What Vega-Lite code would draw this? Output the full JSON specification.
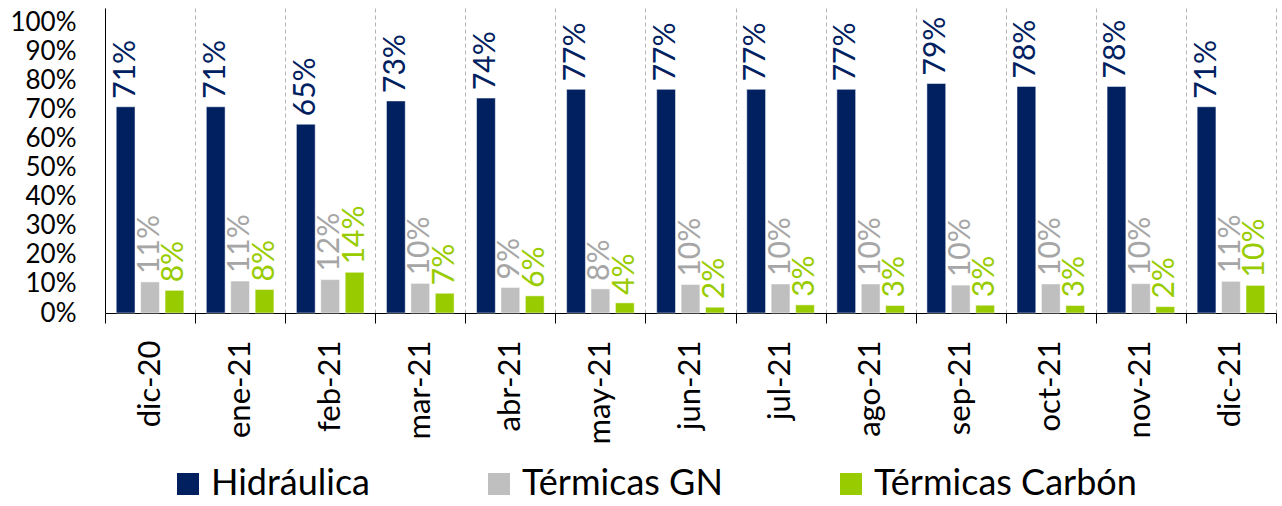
{
  "$schema": "https://vega.github.io/schema/vega-lite/v6.json",
  "width": 1171,
  "height": 305,
  "autosize": {"type": "none"},
  "padding": {"left": 105, "top": 8, "right": 6, "bottom": 193},
  "background": "white",
  "config": {
    "view": {"stroke": null},
    "font": "Lato"
  },
  "data": {
    "values": [
      {"mes": "dic-20", "serie": "Hidráulica", "valor": 0.71},
      {"mes": "dic-20", "serie": "Térmicas GN", "valor": 0.107},
      {"mes": "dic-20", "serie": "Térmicas Carbón", "valor": 0.078},
      {"mes": "ene-21", "serie": "Hidráulica", "valor": 0.71},
      {"mes": "ene-21", "serie": "Térmicas GN", "valor": 0.11},
      {"mes": "ene-21", "serie": "Térmicas Carbón", "valor": 0.081},
      {"mes": "feb-21", "serie": "Hidráulica", "valor": 0.65},
      {"mes": "feb-21", "serie": "Térmicas GN", "valor": 0.115},
      {"mes": "feb-21", "serie": "Térmicas Carbón", "valor": 0.14},
      {"mes": "mar-21", "serie": "Hidráulica", "valor": 0.73},
      {"mes": "mar-21", "serie": "Térmicas GN", "valor": 0.102},
      {"mes": "mar-21", "serie": "Térmicas Carbón", "valor": 0.068},
      {"mes": "abr-21", "serie": "Hidráulica", "valor": 0.74},
      {"mes": "abr-21", "serie": "Térmicas GN", "valor": 0.088},
      {"mes": "abr-21", "serie": "Térmicas Carbón", "valor": 0.059},
      {"mes": "may-21", "serie": "Hidráulica", "valor": 0.77},
      {"mes": "may-21", "serie": "Térmicas GN", "valor": 0.083},
      {"mes": "may-21", "serie": "Térmicas Carbón", "valor": 0.035},
      {"mes": "jun-21", "serie": "Hidráulica", "valor": 0.77},
      {"mes": "jun-21", "serie": "Térmicas GN", "valor": 0.098},
      {"mes": "jun-21", "serie": "Térmicas Carbón", "valor": 0.02},
      {"mes": "jul-21", "serie": "Hidráulica", "valor": 0.77},
      {"mes": "jul-21", "serie": "Térmicas GN", "valor": 0.1},
      {"mes": "jul-21", "serie": "Térmicas Carbón", "valor": 0.028},
      {"mes": "ago-21", "serie": "Hidráulica", "valor": 0.77},
      {"mes": "ago-21", "serie": "Térmicas GN", "valor": 0.1},
      {"mes": "ago-21", "serie": "Térmicas Carbón", "valor": 0.026},
      {"mes": "sep-21", "serie": "Hidráulica", "valor": 0.79},
      {"mes": "sep-21", "serie": "Térmicas GN", "valor": 0.096},
      {"mes": "sep-21", "serie": "Térmicas Carbón", "valor": 0.027},
      {"mes": "oct-21", "serie": "Hidráulica", "valor": 0.78},
      {"mes": "oct-21", "serie": "Térmicas GN", "valor": 0.1},
      {"mes": "oct-21", "serie": "Térmicas Carbón", "valor": 0.026},
      {"mes": "nov-21", "serie": "Hidráulica", "valor": 0.78},
      {"mes": "nov-21", "serie": "Térmicas GN", "valor": 0.101},
      {"mes": "nov-21", "serie": "Térmicas Carbón", "valor": 0.022},
      {"mes": "dic-21", "serie": "Hidráulica", "valor": 0.71},
      {"mes": "dic-21", "serie": "Térmicas GN", "valor": 0.109},
      {"mes": "dic-21", "serie": "Térmicas Carbón", "valor": 0.095}
    ]
  },
  "encoding": {
    "x": {
      "field": "mes",
      "type": "nominal",
      "sort": null,
      "scale": {"paddingInner": 0, "paddingOuter": 0},
      "axis": {
        "title": null,
        "tickBand": "extent",
        "grid": true,
        "gridDash": [4, 3],
        "gridColor": "#B4B4B4",
        "gridWidth": 1,
        "domainColor": "#000000",
        "domainWidth": 1,
        "tickColor": "#000000",
        "tickSize": 10,
        "labelAngle": -90,
        "labelAlign": "right",
        "labelBaseline": "middle",
        "labelPadding": 17,
        "labelFontSize": 31,
        "labelColor": "#000000",
        "labelFont": "Lato"
      }
    },
    "xOffset": {
      "field": "serie",
      "type": "nominal",
      "sort": ["Hidráulica", "Térmicas GN", "Térmicas Carbón"],
      "scale": {"paddingInner": 0.23, "paddingOuter": 0.46}
    },
    "y": {
      "field": "valor",
      "type": "quantitative",
      "scale": {"domain": [0, 1.05], "nice": false},
      "axis": {
        "title": null,
        "values": [0, 0.1, 0.2, 0.3, 0.4, 0.5, 0.6, 0.7, 0.8, 0.9, 1.0],
        "format": ".0%",
        "grid": false,
        "ticks": false,
        "domainColor": "#000000",
        "domainWidth": 1,
        "labelPadding": 29,
        "labelFontSize": 26,
        "labelColor": "#000000",
        "labelFont": "Lato"
      }
    }
  },
  "layer": [
    {
      "mark": {"type": "bar", "stroke": "#FFFFFF", "strokeWidth": 0.5},
      "encoding": {
        "color": {
          "field": "serie",
          "type": "nominal",
          "sort": ["Hidráulica", "Térmicas GN", "Térmicas Carbón"],
          "scale": {
            "domain": ["Hidráulica", "Térmicas GN", "Térmicas Carbón"],
            "range": ["#002060", "#BFBFBF", "#99CC00"]
          },
          "legend": {
            "title": null,
            "orient": "none",
            "direction": "horizontal",
            "legendX": 65,
            "legendY": 458,
            "symbolType": "square",
            "symbolSize": 484,
            "symbolStrokeWidth": 0,
            "symbolOpacity": 1,
            "labelFontSize": 36,
            "labelFont": "Lato",
            "labelOffset": 5,
            "labelLimit": 500,
            "columnPadding": 110,
            "encode": {
              "labels": {
                "update": {
                  "fill": {"signal": "datum.value === 'Térmicas GN' ? '#A6A6A6' : scale('color', datum.value)"}
                }
              }
            }
          }
        }
      }
    },
    {
      "mark": {
        "type": "text",
        "angle": -90,
        "align": "left",
        "baseline": "middle",
        "dx": 8,
        "fontSize": 30,
        "font": "Lato"
      },
      "encoding": {
        "text": {"field": "valor", "type": "quantitative", "format": ".0%"},
        "color": {
          "condition": {"test": "datum.serie === 'Térmicas GN'", "value": "#A6A6A6"},
          "field": "serie",
          "type": "nominal",
          "legend": null
        }
      }
    }
  ]
}
